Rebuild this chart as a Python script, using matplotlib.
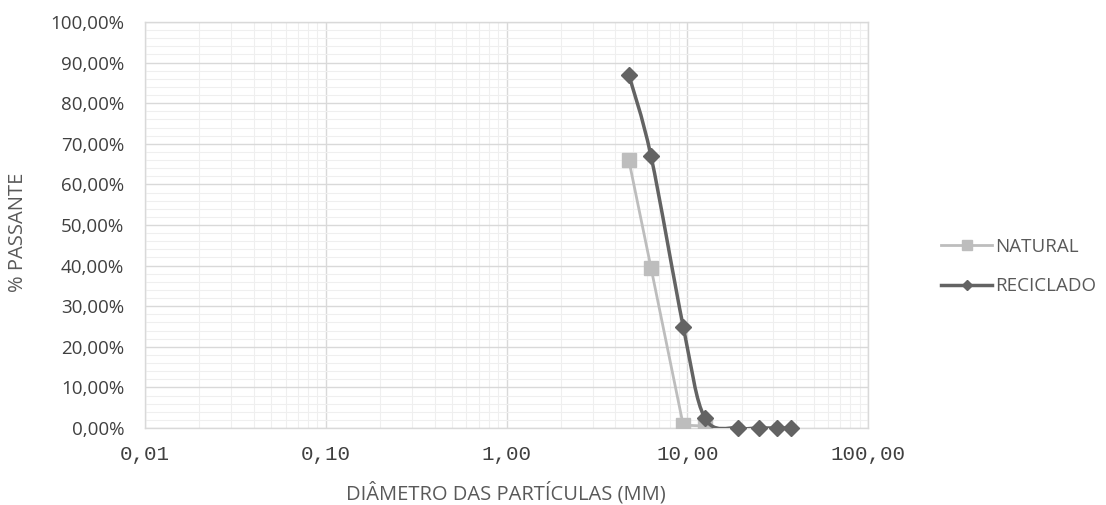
import numpy as np
import matplotlib
matplotlib.use("Agg")
import matplotlib.pyplot as plt
from matplotlib.path import Path
from matplotlib.patches import PathPatch
from matplotlib.ticker import FixedLocator, FuncFormatter, MultipleLocator, LogLocator, NullFormatter
from matplotlib.lines import Line2D

# Data
natural_d = [4.75, 6.3, 9.5, 12.5]
natural_p = [66.0, 39.5, 0.7, 0.5]
reciclado_d = [4.75, 6.3, 9.5, 12.5, 19.0, 25.0, 31.5, 37.5]
reciclado_p = [87.0, 67.0, 25.0, 2.5, 0.0, 0.0, 0.0, 0.0]
xticks = [0.01, 0.1, 1, 10, 100]
xtick_labels = ["0,01", "0,10", "1,00", "10,00", "100,00"]
series_names = ["NATURAL", "RECICLADO"]

c_nat = "#BDBDBD"
c_rec = "#636363"
txt = "#595959"
tick_txt = "#404040"

plt.rcParams['font.family'] = ['Open Sans', 'DejaVu Sans']

W, H = 1106, 505
fig = plt.figure(figsize=(W / 100, H / 100), dpi=100)
ax = fig.add_axes([145 / W, 1 - 428 / H, 723 / W, 406 / H])
ax.set_xscale('log')
ax.set_xlim(0.01, 100)
ax.set_ylim(0, 100)

ax.xaxis.set_major_locator(FixedLocator(xticks))
ax.xaxis.set_major_formatter(FuncFormatter(lambda v, p: xtick_labels[xticks.index(v)] if v in xticks else ""))
ax.xaxis.set_minor_locator(LogLocator(base=10, subs=np.arange(2, 10)))
ax.xaxis.set_minor_formatter(NullFormatter())
ax.yaxis.set_major_locator(MultipleLocator(10))
ax.yaxis.set_minor_locator(MultipleLocator(2))
ax.yaxis.set_major_formatter(FuncFormatter(lambda v, p: f"{v:.2f}".replace(".", ",") + "%"))

ax.grid(which='major', color='#D9D9D9', lw=1.0)
ax.grid(which='minor', color='#EFEFEF', lw=0.8)
ax.set_axisbelow(True)
for s in ax.spines.values():
    s.set_color('#D9D9D9')
    s.set_linewidth(1.0)
ax.tick_params(which='both', length=0)
ax.tick_params(axis='y', colors=tick_txt, labelsize=13.5, pad=15)
ax.tick_params(axis='x', colors=tick_txt, labelsize=15, pad=12)
for lab in ax.get_xticklabels():
    lab.set_family(['Liberation Mono', 'DejaVu Sans Mono'])

fig.text(506 / W, 1 - 493 / H, "DIÂMETRO DAS PARTÍCULAS (MM)", color=txt,
         fontsize=14.5, ha='center', va='center')
fig.text(18 / W, 1 - 232 / H, "% PASSANTE", color=txt, fontsize=14.5,
         ha='center', va='center', rotation=90)

# Natural (straight segments)
ax.plot(natural_d, natural_p, color=c_nat, lw=2.0, marker='s', ms=10,
        mec=c_nat, mfc=c_nat, zorder=3)

# Reciclado (smoothed curve, Catmull-Rom in log-x space)
lx = np.log10(reciclado_d)
py = np.array(reciclado_p)
n = len(lx)
verts = [(reciclado_d[0], py[0])]
codes = [Path.MOVETO]
t = 1 / 6
for i in range(n - 1):
    p0 = (lx[max(i - 1, 0)], py[max(i - 1, 0)])
    p1 = (lx[i], py[i])
    p2 = (lx[i + 1], py[i + 1])
    p3 = (lx[min(i + 2, n - 1)], py[min(i + 2, n - 1)])
    c1 = (p1[0] + (p2[0] - p0[0]) * t, p1[1] + (p2[1] - p0[1]) * t)
    c2 = (p2[0] - (p3[0] - p1[0]) * t, p2[1] - (p3[1] - p1[1]) * t)
    for c in (c1, c2, p2):
        verts.append((10 ** c[0], c[1]))
        codes.append(Path.CURVE4)
patch = PathPatch(Path(verts, codes), facecolor='none', edgecolor=c_rec, lw=2.5, zorder=4)
ax.add_patch(patch)
ax.plot(reciclado_d, reciclado_p, ls='none', marker='D', ms=8, color=c_rec, zorder=5, clip_on=False)

handles = [Line2D([], [], color=c_nat, lw=2.0, marker='s', ms=7),
           Line2D([], [], color=c_rec, lw=2.5, marker='D', ms=5)]
leg = fig.legend(handles, series_names, loc='center left', bbox_to_anchor=(0.836, 0.472),
                 frameon=False, fontsize=13.5, labelcolor=txt, handlelength=2.7,
                 handletextpad=0.15, labelspacing=1.15)

fig.savefig("out.png", dpi=100)
